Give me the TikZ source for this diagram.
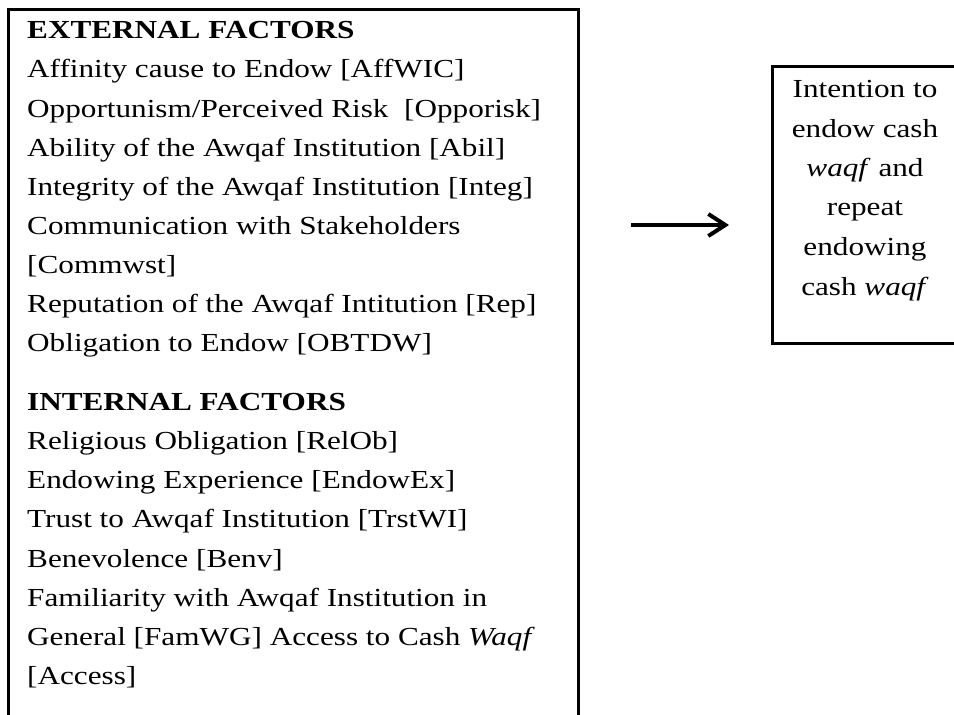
\documentclass[tikz,border=0pt]{standalone}
\usepackage{fontspec}
\setmainfont[FakeStretch=1.2]{Liberation Serif}
\usetikzlibrary{arrows.meta}
\begin{document}
\begin{tikzpicture}[x=1pt,y=-1pt,
  txt/.style={anchor=base west,inner sep=0pt,font=\fontsize{26}{39}\selectfont},
  ctr/.style={anchor=base,inner sep=0pt,font=\fontsize{26}{39}\selectfont},
  frame/.style={draw=black,line width=2.8pt},
  conn/.style={line width=4pt,-{Straight Barb[length=17pt,width=22pt]}}]
\useasboundingbox (0,0) rectangle (954,715);
\clip (0,0) rectangle (954,715);
% boxes
\node[frame,rectangle,anchor=north west,minimum width=570pt,minimum height=760pt,inner sep=0pt] (factors) at (7,8) {};
\node[frame,rectangle,anchor=north west,minimum width=190pt,minimum height=277pt,inner sep=0pt] (intention) at (771,65) {};
% left text
\node[txt] (h1) at (27,38) {\bfseries EXTERNAL FACTORS};
\node[txt] (e1) at (27,77) {Affinity cause to Endow [AffWIC]};
\node[txt] (e2) at (27,117) {Opportunism/Perceived Risk\ \ [Opporisk]};
\node[txt] (e3) at (27,156) {Ability of the Awqaf Institution [Abil]};
\node[txt] (e4) at (27,195) {Integrity of the Awqaf Institution [Integ]};
\node[txt] (e5) at (27,234) {Communication with Stakeholders};
\node[txt] (e6) at (27,273) {[Commwst]};
\node[txt] (e7) at (27,312) {Reputation of the Awqaf Intitution [Rep]};
\node[txt] (e8) at (27,351) {Obligation to Endow [OBTDW]};
\node[txt] (h2) at (27,410) {\bfseries INTERNAL FACTORS};
\node[txt] (i1) at (27,449) {Religious Obligation [RelOb]};
\node[txt] (i2) at (27,488) {Endowing Experience [EndowEx]};
\node[txt] (i3) at (27,527) {Trust to Awqaf Institution [TrstWI]};
\node[txt] (i4) at (27,567) {Benevolence [Benv]};
\node[txt] (i5) at (27,606) {Familiarity with Awqaf Institution in};
\node[txt] (i6) at (27,645) {General [FamWG] Access to Cash \textit{Waqf}};
\node[txt] (i7) at (27,684) {[Access]};
% right text
\node[ctr] (r1) at (865,97) {Intention to};
\node[ctr] (r2) at (865,137) {endow cash};
\node[ctr] (r3) at (865,176) {\textit{waqf} and};
\node[ctr] (r4) at (865,215) {repeat};
\node[ctr] (r5) at (865,255) {endowing};
\node[ctr] (r6) at (865,295) {cash \textit{waqf}};
% arrow
\coordinate (a1) at (631,225);
\coordinate (a2) at (729,225);
\draw[conn] (a1) -- (a2);
\end{tikzpicture}
\end{document}
